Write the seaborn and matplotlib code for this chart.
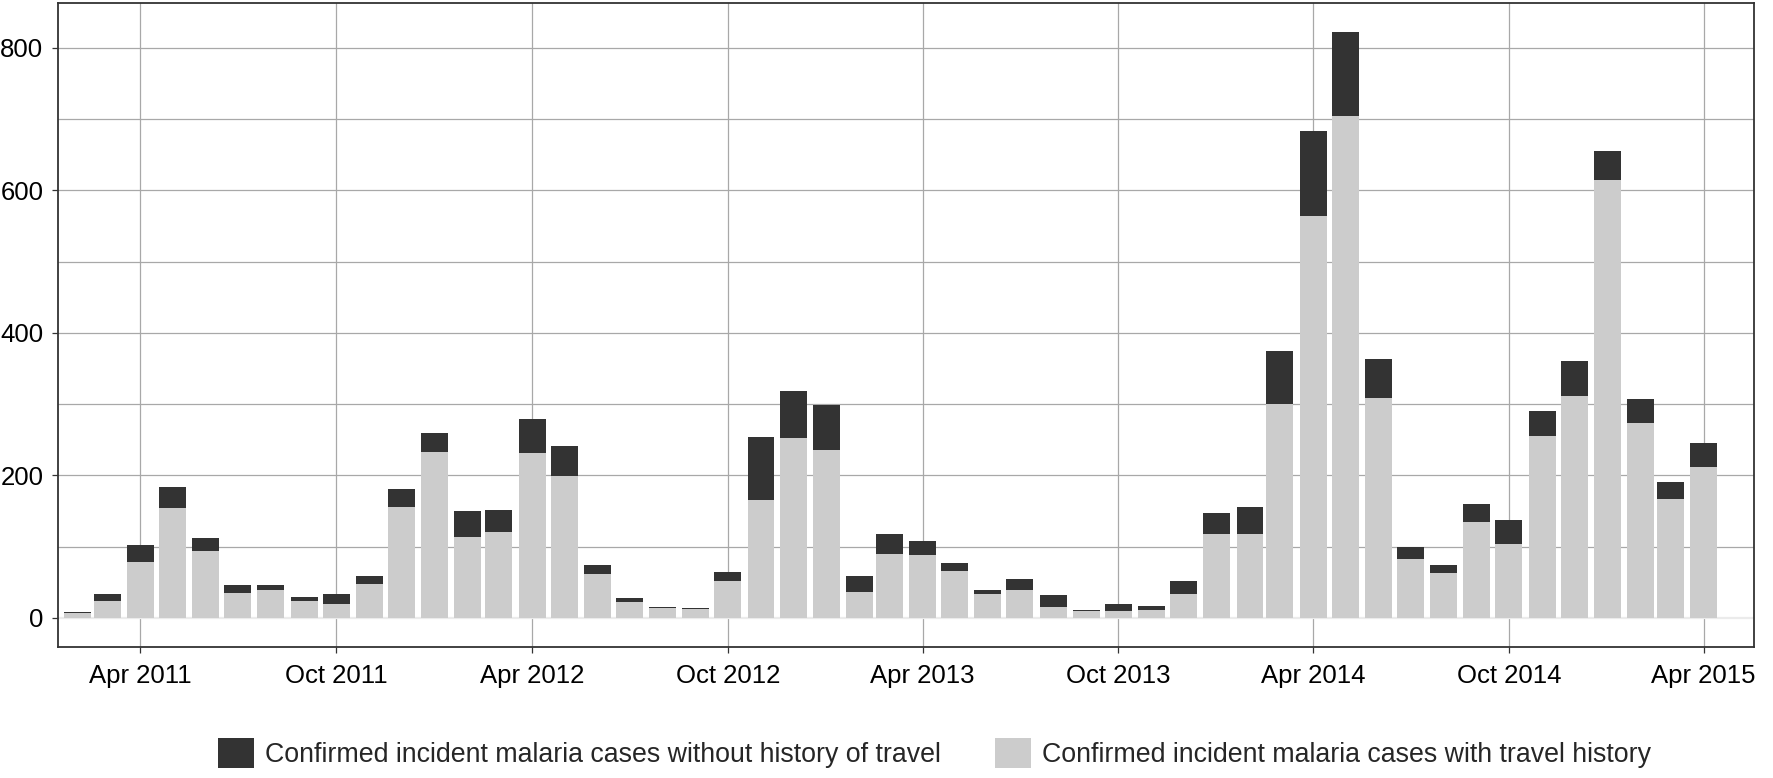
import matplotlib
matplotlib.use("Agg")
import matplotlib.pyplot as plt
import matplotlib.dates as mdates
from matplotlib.patches import Patch
import numpy as np
import pandas as pd
import seaborn as sns

# monthly counts, Feb 2011 .. Apr 2015
months = pd.date_range("2011-02-01", "2015-04-01", freq="MS")
with_travel = [7, 24, 78, 154, 93, 35, 39, 24, 19, 48,
               155, 233, 114, 120, 231, 199, 62, 22, 13, 12,
               51, 165, 253, 236, 36, 90, 88, 66, 33, 39,
               15, 9, 10, 11, 34, 117, 117, 300, 564, 705,
               308, 83, 63, 135, 103, 255, 312, 614, 273, 167,
               212]
without_travel = [1, 9, 24, 30, 19, 11, 7, 5, 15, 10,
                  26, 27, 36, 31, 48, 42, 12, 5, 2, 1,
                  13, 89, 66, 62, 22, 27, 20, 11, 6, 16,
                  17, 2, 9, 6, 17, 30, 38, 75, 119, 117,
                  55, 16, 11, 24, 34, 35, 48, 42, 34, 24,
                  34]
labels = ["Confirmed incident malaria cases without history of travel",
          "Confirmed incident malaria cases with travel history"]

dark = "#333333"
light = "#cccccc"

df = pd.DataFrame({"month": mdates.date2num(months),
                   "travel": with_travel,
                   "local": without_travel})
df["total"] = df["travel"] + df["local"]

sns.set_theme(style="white")
plt.rcParams["font.family"] = ["Liberation Sans", "DejaVu Sans"]

fig = plt.figure(figsize=(17.73, 7.78), dpi=100)
ax = fig.add_axes([58 / 1773, 131 / 778, 1696 / 1773, 644 / 778])

# dark bar = total, light bar drawn over it = cases with travel history
sns.barplot(data=df, x="month", y="total", native_scale=True, color=dark,
            saturation=1, width=0.9, linewidth=0, errorbar=None, ax=ax)
sns.barplot(data=df, x="month", y="travel", native_scale=True, color=light,
            saturation=1, width=0.9, linewidth=0, errorbar=None, ax=ax)

ax.set_xlim(mdates.date2num(pd.Timestamp("2011-01-14")),
            mdates.date2num(pd.Timestamp("2015-05-18")))
ax.set_ylim(-41.1, 863.1)

ax.xaxis.set_major_locator(mdates.MonthLocator(bymonth=[4, 10]))
ax.xaxis.set_major_formatter(mdates.DateFormatter("%b %Y"))
ax.set_yticks([0, 200, 400, 600, 800])
ax.set_yticks([100, 300, 500, 700], minor=True)
ax.set_xlabel("")
ax.set_ylabel("")

ax.set_axisbelow(True)
ax.grid(True, which="major", color="#a8a8a8", linewidth=0.9)
ax.grid(True, which="minor", axis="y", color="#a8a8a8", linewidth=0.9)
ax.grid(False, which="minor", axis="x")

ax.tick_params(axis="both", which="major", length=4.5, width=0.9,
               color="#333333", labelsize=18.5, labelcolor="black",
               bottom=True, left=True)
ax.tick_params(axis="x", which="major", pad=8)
ax.tick_params(axis="y", which="major", pad=6)
ax.tick_params(axis="y", which="minor", length=0)
for s in ax.spines.values():
    s.set_color("#333333")
    s.set_linewidth(1.3)

# a few gridlines are drawn much lighter in the original
for tk in ax.yaxis.get_major_ticks():
    if tk.get_loc() == 0:
        tk.gridline.set_color("#ebebeb")
        tk.gridline.set_linewidth(1.6)
for tk in ax.yaxis.get_minor_ticks():
    if tk.get_loc() == 100:
        tk.gridline.set_color("#ebebeb")
for tk in ax.xaxis.get_major_ticks():
    d = mdates.num2date(tk.get_loc())
    if d.year == 2014 and d.month == 4:
        tk.gridline.set_color("#ebebeb")

handles = [Patch(facecolor=dark, edgecolor="none"),
           Patch(facecolor=light, edgecolor="none")]
fig.legend(handles, labels, loc="center", bbox_to_anchor=(0.527, 0.032),
           ncol=2, frameon=False, fontsize=19.3, handlelength=1.35,
           handleheight=1.35, handletextpad=0.4, columnspacing=2.0)

fig.savefig("out.png", dpi=100)
